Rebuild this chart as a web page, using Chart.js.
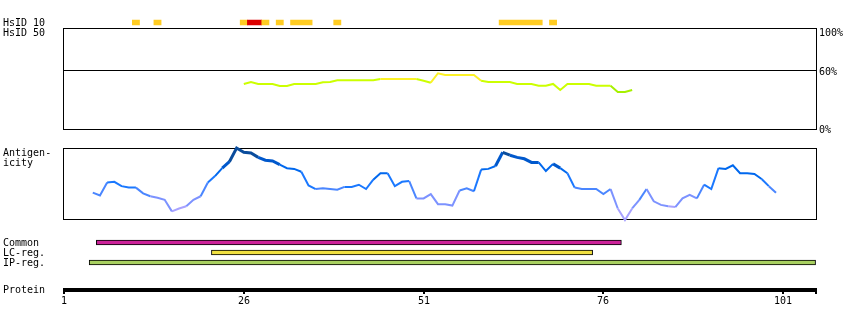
<!DOCTYPE html>
<html><head><meta charset="utf-8">
<script src="https://cdn.jsdelivr.net/npm/chart.js@4.4.1/dist/chart.umd.min.js"></script>
<style>
html,body{margin:0;padding:0;background:#fff;}
#wrap{position:relative;width:850px;height:330px;background:#fff;}
#wrap canvas{position:absolute;left:0;top:0;}
</style></head><body>
<div id="wrap">
<canvas id="cH" width="850" height="330"></canvas>
<canvas id="cI" width="850" height="330"></canvas>
<canvas id="cA" width="850" height="330"></canvas>
<canvas id="cR" width="850" height="330"></canvas>
</div>
<script>
// ---------------- DATA ----------------
const axisMin = 1;
const axisMax = 105.7;
const axisTicks = [1, 26, 51, 76, 101];
const proteinLength = 105;

// HsID 10 hits (residue ranges) and their level
const hsidStart = [11, 14, 26, 27, 29, 31, 33, 39, 62, 69];
const hsidEnd   = [11, 14, 26, 28, 29, 31, 35, 39, 67, 69];
const hsidLevel = ['mid','mid','mid','high','mid','mid','mid','mid','mid','mid'];

// HsID 50 identity (%) for residues 26..80
const identityFirstResidue = 26;
const identityValues = [
  46.5, 48.5, 46.5, 46.5, 46.5, 44.4, 44.4, 46.5, 46.5, 46.5,
  46.5, 48.2, 48.5, 50.2, 50.2, 50.2, 50.2, 50.2, 50.2, 51.5,
  51.5, 51.5, 51.5, 51.5, 51.5, 49.8, 47.8, 57.3, 55.5, 55.5,
  55.5, 55.5, 55.5, 49.8, 48.5, 48.5, 48.5, 48.5, 46.5, 46.5,
  46.5, 44.7, 44.7, 46.5, 40.4, 46.5, 46.5, 46.5, 46.5, 44.7,
  44.7, 44.7, 38.4, 38.4, 40.4
];
const identityTicks = [100, 60, 0];

// Antigenicity (relative score 0..100) for residues 5..100
const antigenFirstResidue = 5;
const antigenValues = [
  38, 34, 52, 53, 47, 45, 45, 37, 33, 31,
  28, 12, 16, 19, 28, 33, 52, 61, 72, 81,
  100, 94, 93, 87, 83, 82, 77, 72, 71, 67,
  48, 43, 44, 43, 42, 46, 46, 49, 43, 56,
  65, 65, 47, 53, 54, 30, 30, 36, 22, 22,
  20, 41, 44, 40, 70, 71, 75, 94, 90, 87,
  85, 80, 80, 68, 78, 72, 65, 45, 43, 43,
  43, 36, 43, 16, 0, 16, 28, 43, 26, 21,
  19, 18, 30, 35, 30, 49, 43, 72, 71, 76,
  65, 65, 64, 57, 47, 38
];

// Region tracks
const regionLabels = ['Common', 'LC-reg.', 'IP-reg.'];
const regionStart  = [6, 22, 5];
const regionEnd    = [78, 74, 105];

// ---------------- STYLE ----------------
const FONT = '10px "DejaVu Sans Mono", "Liberation Mono", monospace';
const hsidColors = { mid: '#ffcc22', high: '#dd0000' };
const regionColors = ['#cc2299', '#f0e040', '#a8d060'];
function identityColor(v){ return v >= 51 ? '#fcf226' : (v >= 42 ? '#ccff00' : '#a6f000'); }
function antigenColor(v){
  if (v >= 90) return '#0a4c9c';
  if (v >= 75) return '#0058cc';
  if (v >= 60) return '#0068ee';
  if (v >= 45) return '#1a78ff';
  if (v >= 35) return '#4a86ff';
  if (v >= 20) return '#7c92ff';
  return '#a8a2ff';
}
Chart.defaults.animation = false;
Chart.defaults.events = [];
Chart.defaults.plugins.legend.display = false;
Chart.defaults.plugins.tooltip.enabled = false;

const xScale = { type: 'linear', min: axisMin, max: axisMax, display: false };
function pad(top, bottom){ return { left: 64, right: 33, top: top, bottom: 330 - bottom }; }
function text(ctx, s, x, y, align){
  ctx.save(); ctx.font = FONT; ctx.fillStyle = '#000'; ctx.textAlign = align || 'left';
  ctx.textBaseline = 'alphabetic'; ctx.fillText(s, x, y); ctx.restore();
}
function box(chart){
  const a = chart.chartArea, ctx = chart.ctx;
  ctx.save(); ctx.strokeStyle = '#000'; ctx.lineWidth = 1;
  ctx.strokeRect(Math.round(a.left) - 0.5, Math.round(a.top) + 0.5,
                 Math.round(a.right) - Math.round(a.left), Math.round(a.bottom) - Math.round(a.top) - 1);
  ctx.restore();
}

// ---------------- HsID 10 ----------------
new Chart(document.getElementById('cH'), {
  type: 'bar',
  data: {
    labels: ['HsID 10'],
    datasets: [{
      data: hsidStart.map((s, i) => ({ x: [s - 0.5, hsidEnd[i] + 0.5], y: 'HsID 10' })),
      backgroundColor: hsidLevel.map(l => hsidColors[l]),
      borderWidth: 0, barThickness: 5, grouped: false
    }]
  },
  options: {
    responsive: false, devicePixelRatio: 1, indexAxis: 'y',
    layout: { padding: pad(17.5, 27.5) },
    scales: { x: xScale, y: { type: 'category', display: false } }
  },
  plugins: [{ id: 'hsidText', afterDraw(chart){
    const ys = chart.scales.y;
    text(chart.ctx, 'HsID 10', 3, ys.getPixelForValue(0) + 3.5);
  }}]
});

// ---------------- Identity (HsID 50) ----------------
new Chart(document.getElementById('cI'), {
  type: 'line',
  data: {
    datasets: [{
      data: identityValues.map((v, i) => ({ x: identityFirstResidue + i, y: v })),
      borderColor: '#ccff00', borderWidth: 2, pointRadius: 0, tension: 0, clip: false,
      segment: { borderColor: c => identityColor((c.p0.parsed.y + c.p1.parsed.y) / 2) }
    }]
  },
  options: {
    responsive: false, devicePixelRatio: 1,
    layout: { padding: pad(28, 130) },
    scales: { x: xScale, y: { type: 'linear', min: 0, max: 103, display: false } }
  },
  plugins: [{ id: 'idDeco',
    beforeDatasetsDraw(chart){
      const a = chart.chartArea, ctx = chart.ctx, ys = chart.scales.y;
      box(chart);
      const y60 = Math.floor(ys.getPixelForValue(60)) + 0.5;
      ctx.save(); ctx.strokeStyle = '#000'; ctx.lineWidth = 1;
      ctx.beginPath(); ctx.moveTo(Math.round(a.left) - 1, y60); ctx.lineTo(Math.round(a.right), y60); ctx.stroke();
      ctx.restore();
    },
    afterDraw(chart){
      const ctx = chart.ctx, ys = chart.scales.y, a = chart.chartArea;
      text(ctx, 'HsID 50', 3, 36);
      identityTicks.forEach(t => {
        const off = t === 100 ? 5 : (t === 60 ? 4.5 : 3);
        text(ctx, t + '%', a.right + 2, ys.getPixelForValue(t) + off);
      });
    }
  }]
});

// ---------------- Antigenicity ----------------
new Chart(document.getElementById('cA'), {
  type: 'line',
  data: {
    datasets: [{
      data: antigenValues.map((v, i) => ({ x: antigenFirstResidue + i, y: v })),
      borderColor: '#1a78ff', borderWidth: 2, pointRadius: 0, tension: 0, clip: false,
      segment: {
        borderColor: c => antigenColor((c.p0.parsed.y + c.p1.parsed.y) / 2),
        borderWidth: c => ((c.p0.parsed.y + c.p1.parsed.y) / 2 >= 75 ? 3 : 2)
      }
    }]
  },
  options: {
    responsive: false, devicePixelRatio: 1,
    layout: { padding: pad(148, 220) },
    scales: { x: xScale, y: { type: 'linear', min: 0, max: 100, display: false } }
  },
  plugins: [{ id: 'agDeco',
    beforeDatasetsDraw(chart){ box(chart); },
    afterDraw(chart){
      text(chart.ctx, 'Antigen-', 3, 156);
      text(chart.ctx, 'icity', 3, 166);
    }
  }]
});

// ---------------- Regions + protein axis ----------------
new Chart(document.getElementById('cR'), {
  type: 'bar',
  data: {
    labels: regionLabels,
    datasets: [{
      data: regionStart.map((s, i) => [s - 0.5, regionEnd[i] + 0.5]),
      backgroundColor: regionColors, borderColor: '#000', borderWidth: 1,
      borderSkipped: false, barThickness: 5
    }]
  },
  options: {
    responsive: false, devicePixelRatio: 1, indexAxis: 'y',
    layout: { padding: pad(237.5, 267.5) },
    scales: { x: xScale, y: { type: 'category', display: false } }
  },
  plugins: [{ id: 'regDeco', afterDraw(chart){
    const ctx = chart.ctx, ys = chart.scales.y, xs = chart.scales.x;
    regionLabels.forEach((l, i) => text(ctx, l, 3, ys.getPixelForValue(i) + 3.5));
    // protein axis
    const x0 = Math.round(xs.getPixelForValue(axisMin)) - 1;
    const x1 = Math.round(xs.getPixelForValue(axisMax));
    ctx.save(); ctx.fillStyle = '#000';
    ctx.fillRect(x0, 288, x1 - x0, 4);
    axisTicks.forEach(t => {
      const px = Math.round(xs.getPixelForValue(t));
      ctx.fillRect(px - 1, 288, 2, 6);
      text(ctx, String(t), px, 304, 'center');
    });
    ctx.fillRect(x1 - 2, 288, 2, 6);
    ctx.restore();
    text(ctx, 'Protein', 3, 293);
  }}]
});
</script>
</body></html>
